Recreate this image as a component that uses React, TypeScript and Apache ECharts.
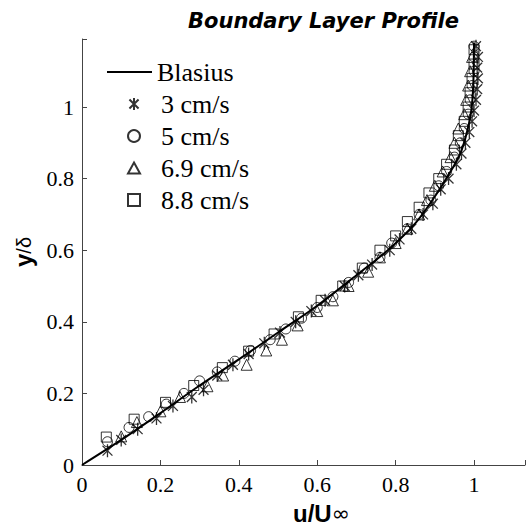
import React, { useEffect, useRef } from "react";
import * as echarts from "echarts";

const blasiusU = [0, 0.1, 0.2, 0.3, 0.4, 0.5, 0.6, 0.7, 0.78, 0.85, 0.9, 0.94, 0.965, 0.982, 0.993, 0.998, 1.0];
const blasiusY = [0, 0.07, 0.145, 0.222, 0.295, 0.37, 0.445, 0.53, 0.6, 0.675, 0.75, 0.82, 0.87, 0.93, 0.99, 1.06, 1.18];

const s3U = [0.065, 0.1, 0.142, 0.19, 0.232, 0.28, 0.31, 0.345, 0.385, 0.425, 0.465, 0.505, 0.545, 0.585, 0.62, 0.67, 0.705, 0.74, 0.785, 0.81, 0.84, 0.87, 0.895, 0.915, 0.935, 0.955, 0.968, 0.978, 0.988, 0.995, 1.0, 1.005, 1.008, 1.01, 1.008, 1.01, 1.005];
const s3Y = [0.04, 0.07, 0.1, 0.13, 0.165, 0.19, 0.21, 0.25, 0.28, 0.31, 0.34, 0.37, 0.4, 0.43, 0.46, 0.5, 0.53, 0.56, 0.6, 0.63, 0.66, 0.7, 0.73, 0.77, 0.8, 0.84, 0.87, 0.9, 0.93, 0.96, 0.99, 1.02, 1.05, 1.08, 1.11, 1.14, 1.17];

const s5U = [0.065, 0.12, 0.17, 0.215, 0.26, 0.3, 0.345, 0.39, 0.43, 0.48, 0.52, 0.56, 0.6, 0.64, 0.68, 0.72, 0.76, 0.79, 0.83, 0.86, 0.89, 0.91, 0.93, 0.95, 0.965, 0.975, 0.985, 0.99, 0.995, 1.0, 1.0, 1.0];
const s5Y = [0.065, 0.105, 0.135, 0.17, 0.2, 0.235, 0.26, 0.29, 0.32, 0.35, 0.38, 0.41, 0.44, 0.47, 0.51, 0.55, 0.58, 0.62, 0.66, 0.7, 0.74, 0.78, 0.82, 0.86, 0.9, 0.94, 0.98, 1.02, 1.06, 1.1, 1.14, 1.17];

const s69U = [0.1, 0.14, 0.2, 0.25, 0.32, 0.36, 0.42, 0.47, 0.51, 0.55, 0.6, 0.64, 0.68, 0.73, 0.76, 0.8, 0.83, 0.86, 0.88, 0.9, 0.92, 0.94, 0.95, 0.96, 0.975, 0.98, 0.985, 0.99, 0.995];
const s69Y = [0.08, 0.12, 0.15, 0.19, 0.22, 0.25, 0.28, 0.32, 0.35, 0.39, 0.43, 0.46, 0.5, 0.54, 0.58, 0.62, 0.66, 0.7, 0.74, 0.78, 0.82, 0.86, 0.9, 0.94, 0.98, 1.02, 1.06, 1.1, 1.14];

const s88U = [0.062, 0.133, 0.213, 0.285, 0.358, 0.425, 0.49, 0.552, 0.61, 0.665, 0.715, 0.76, 0.8, 0.83, 0.86, 0.885, 0.91, 0.93, 0.95, 0.96, 0.975, 0.985, 0.99, 0.995, 1.0, 1.0];
const s88Y = [0.078, 0.128, 0.175, 0.222, 0.272, 0.318, 0.366, 0.414, 0.46, 0.5, 0.55, 0.6, 0.64, 0.68, 0.72, 0.76, 0.8, 0.84, 0.88, 0.92, 0.96, 1.0, 1.04, 1.08, 1.12, 1.16];

const xTicks = [0, 0.2, 0.4, 0.6, 0.8, 1];
const yTicks = [0, 0.2, 0.4, 0.6, 0.8, 1];

const zip = (a: number[], b: number[]) => a.map((v, i) => [v, b[i]]);

const STAR = "path://M5,0L5,10M1.2,1.2L8.8,8.8M1.2,8.8L8.8,1.2";
const TRI = "path://M5,0L10,9L0,9Z";
const SQR = "path://M0,0L10,0L10,10L0,10Z";
const serif = "Liberation Serif";

export default function App() {
  const ref = useRef<HTMLDivElement>(null);
  useEffect(() => {
    document.body.style.margin = "0";
    if (!ref.current) return;
    const chart = echarts.init(ref.current, undefined, { renderer: "svg" });
    const markerStyle = { color: "rgba(0,0,0,0)", borderColor: "#000", borderWidth: 1 };
    const starStyle = { color: "rgba(0,0,0,0)", borderColor: "#000", borderWidth: 1.3 };
    const legendText = { fontFamily: serif, fontSize: 26, color: "#000", lineHeight: 26 };
    chart.setOption({
      animation: false,
      title: {
        text: "Boundary Layer Profile",
        left: 183,
        top: 5,
        textStyle: { fontFamily: "DejaVu Sans", fontWeight: "bold", fontStyle: "italic", fontSize: 21, color: "#000" },
      },
      legend: [
        {
          orient: "vertical",
          left: 107,
          top: 59,
          padding: 0,
          itemWidth: 45,
          itemHeight: 2,
          data: [{ name: "Blasius", icon: "rect" }],
          textStyle: legendText,
        },
        {
          orient: "vertical",
          left: 127,
          top: 91,
          padding: 0,
          itemWidth: 12,
          itemHeight: 12,
          itemGap: 6,
          symbolKeepAspect: true,
          data: [
            { name: "3 cm/s", icon: STAR },
            { name: "5 cm/s", icon: "circle" },
            { name: "6.9 cm/s", icon: TRI },
            { name: "8.8 cm/s", icon: SQR },
          ],
          formatter: (n: string) => "{g|}" + n,
          textStyle: { ...legendText, rich: { g: { width: 16 } } },
        },
      ],
      grid: { left: 82, top: 39, width: 446, bottom: 60 },
      xAxis: {
        type: "value",
        min: 0,
        max: 1.13,
        interval: 0.2,
        name: "{b|u/U}{n|∞}",
        nameLocation: "middle",
        nameGap: 36,
        nameTextStyle: {
          padding: [0, 0, 0, 36],
          rich: {
            b: { fontFamily: "Liberation Sans", fontWeight: "bold", fontSize: 24, color: "#000" },
            n: { fontFamily: "DejaVu Sans", fontSize: 22, color: "#000" },
          },
        },
        axisLine: { show: true, lineStyle: { color: "#444", width: 1 } },
        axisTick: { show: true, inside: true, length: 5, lineStyle: { color: "#444" } },
        axisLabel: {
          fontFamily: serif,
          fontSize: 22,
          color: "#000",
          margin: 8,
          formatter: (v: number) => (xTicks.some((t) => Math.abs(t - v) < 1e-6) ? String(+v.toFixed(1)) : ""),
        },
        splitLine: { show: false },
      },
      yAxis: {
        type: "value",
        min: 0,
        max: 1.19,
        interval: 0.2,
        name: "{b|y}{n|/δ}",
        nameLocation: "middle",
        nameGap: 43,
        nameRotate: 90,
        nameTextStyle: {
          rich: {
            b: { fontFamily: "Liberation Sans", fontWeight: "bold", fontSize: 24, color: "#000" },
            n: { fontFamily: "Liberation Sans", fontSize: 20, color: "#000" },
          },
        },
        axisLine: { show: true, lineStyle: { color: "#444", width: 1 } },
        axisTick: { show: true, inside: true, length: 5, lineStyle: { color: "#444" } },
        axisLabel: {
          fontFamily: serif,
          fontSize: 22,
          color: "#000",
          margin: 8,
          formatter: (v: number) => (yTicks.some((t) => Math.abs(t - v) < 1e-6) ? String(+v.toFixed(1)) : ""),
        },
        splitLine: { show: false },
      },
      series: [
        {
          name: "Blasius",
          type: "line",
          data: zip(blasiusU, blasiusY),
          smooth: 0.3,
          symbol: "none",
          lineStyle: { color: "#000", width: 2 },
          itemStyle: { color: "#000" },
          z: 5,
        },
        {
          name: "3 cm/s",
          type: "scatter",
          data: zip(s3U, s3Y),
          symbol: STAR,
          symbolKeepAspect: true,
          symbolSize: 13,
          itemStyle: starStyle,
        },
        {
          name: "5 cm/s",
          type: "scatter",
          data: zip(s5U, s5Y),
          symbol: "circle",
          symbolSize: 10,
          itemStyle: markerStyle,
        },
        {
          name: "6.9 cm/s",
          type: "scatter",
          data: zip(s69U, s69Y),
          symbol: "triangle",
          symbolSize: 11,
          itemStyle: markerStyle,
        },
        {
          name: "8.8 cm/s",
          type: "scatter",
          data: zip(s88U, s88Y),
          symbol: "rect",
          symbolSize: 10,
          itemStyle: markerStyle,
        },
      ],
    });
    return () => chart.dispose();
  }, []);
  return <div ref={ref} style={{ width: 528, height: 530 }} />;
}
